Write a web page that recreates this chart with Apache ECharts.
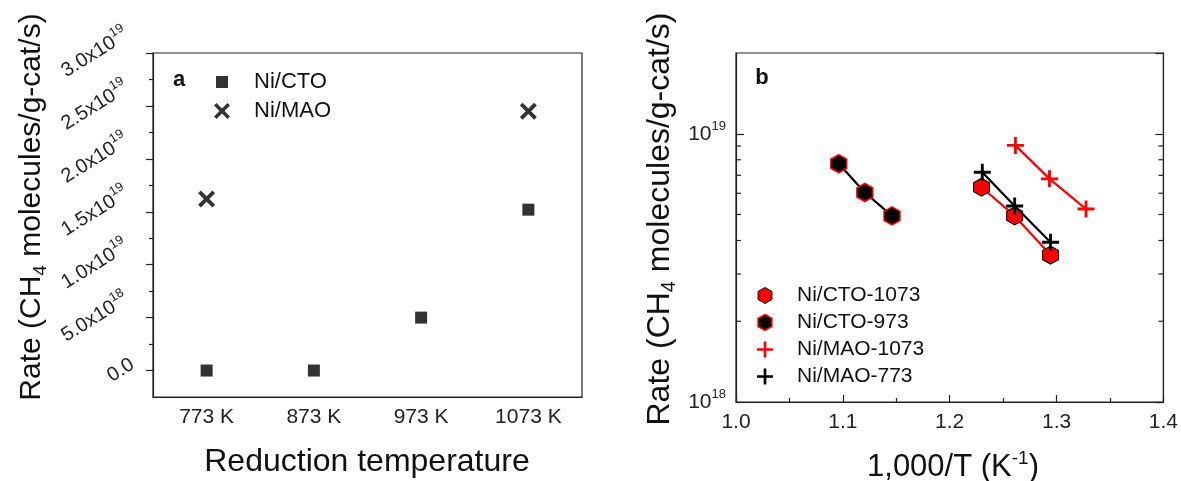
<!DOCTYPE html>
<html><head><meta charset="utf-8">
<script src="https://cdn.jsdelivr.net/npm/echarts@6/dist/echarts.min.js"></script>
<style>html,body{margin:0;padding:0;background:#fff}#c{width:1181px;height:481px}</style>
</head><body><div id="c"></div>
<script>
// ---- Panel a data ----
const categories = ['773 K', '873 K', '973 K', '1073 K'];
const ctoRate = [0, 0, 5.0e18, 1.52e19];
const maoRate = [1.62e19, null, null, 2.45e19];
const leftMajorTicks = [0, 5e18, 1e19, 1.5e19, 2e19, 2.5e19, 3e19];
const leftMinorTicks = [2.5e18, 7.5e18, 1.25e19, 1.75e19, 2.25e19, 2.75e19];
const leftYMin = -2.5e18, leftYMax = 3e19;

// ---- Panel b data ----
const cto1073 = [[1.2298, 6.32e18], [1.2608, 4.94e18], [1.2944, 3.53e18]];
const cto973  = [[1.0962, 7.73e18], [1.1206, 6.04e18], [1.1460, 4.94e18]];
const mao1073 = [[1.2615, 9.05e18], [1.2934, 6.79e18], [1.3276, 5.24e18]];
const mao773  = [[1.2305, 7.19e18], [1.2608, 5.38e18], [1.2944, 3.94e18]];
const logMinorTicks = [2e18, 3e18, 4e18, 5e18, 6e18, 7e18, 8e18, 9e18];
const rightXMin = 1.0, rightXMax = 1.4, rightXStep = 0.1;
const rightYMin = 1e18, rightYMax = 2e19;

const FF = '"Liberation Sans", Arial, Helvetica, sans-serif';
const AX = '#222';
const hexPath = 'path://M0,-1 L0.866,-0.5 L0.866,0.5 L0,1 L-0.866,0.5 L-0.866,-0.5 Z';
const plusPath = 'path://M-0.17,-1 H0.17 V-0.17 H1 V0.17 H0.17 V1 H-0.17 V0.17 H-1 V-0.17 H-0.17 Z';
const xPath = 'path://M-1,-0.68 L-0.68,-1 L0,-0.32 L0.68,-1 L1,-0.68 L0.32,0 L1,0.68 L0.68,1 L0,0.32 L-0.68,1 L-1,0.68 L-0.32,0 Z';
const sqPath = 'path://M0,0 H1 V1 H0 Z';

function sciLabel(v) {
  if (v === 0) return '{z|0.0}';
  const e = Math.floor(Math.log10(v) + 1e-9);
  const m = v / Math.pow(10, e);
  return '{m|' + m.toFixed(1) + 'x10}{s|' + e + '}';
}
function powLabel(v) {
  const l = Math.log10(v);
  const e = Math.round(l);
  if (Math.abs(l - e) > 1e-6) return '';
  return '{m|10}{s|' + e + '}';
}

const chart = echarts.init(document.getElementById('c'), null, {renderer: 'canvas'});
const option = {
  animation: false,
  backgroundColor: '#fff',
  grid: [
    {left: 153, right: 599, top: 53, bottom: 84, show: true, borderColor: AX, borderWidth: 1.2, backgroundColor: 'transparent'},
    {left: 736, right: 16, top: 53, bottom: 79, show: true, borderColor: AX, borderWidth: 1.2, backgroundColor: 'transparent'}
  ],
  xAxis: [
    {type: 'category', gridIndex: 0, data: categories, boundaryGap: true,
     axisLine: {onZero: false, lineStyle: {color: AX, width: 1.2}},
     axisTick: {alignWithLabel: true, length: 6, lineStyle: {color: AX, width: 1.2}},
     axisLabel: {fontSize: 21, color: '#222', fontFamily: FF, margin: 10},
     splitLine: {show: false}},
    {type: 'value', gridIndex: 1, min: rightXMin, max: rightXMax, interval: rightXStep,
     axisLine: {onZero: false, lineStyle: {color: AX, width: 1.2}},
     axisTick: {inside: true, length: 7, lineStyle: {color: AX, width: 1.2}},
     minorTick: {show: true, splitNumber: 2, length: 4, lineStyle: {color: AX, width: 1.2}},
     axisLabel: {fontSize: 21, color: '#222', fontFamily: FF, margin: 10, formatter: v => v.toFixed(1)},
     splitLine: {show: false}, minorSplitLine: {show: false}}
  ],
  yAxis: [
    {type: 'value', gridIndex: 0, min: leftYMin, max: leftYMax, position: 'left',
     axisLine: {show: true, onZero: false, lineStyle: {color: AX, width: 1.2}},
     axisTick: {show: true, length: 7, customValues: leftMajorTicks, lineStyle: {color: AX, width: 1.2}},
     axisLabel: {customValues: leftMajorTicks, rotate: 32, margin: 58, align: 'center', verticalAlign: 'middle',
       color: '#222', fontFamily: FF,
       formatter: sciLabel,
       rich: {m: {fontSize: 20, fontFamily: FF, color: '#222', lineHeight: 28, verticalAlign: 'middle'},
              s: {fontSize: 13, fontFamily: FF, color: '#222', lineHeight: 12, verticalAlign: 'top'},
              z: {fontSize: 20, fontFamily: FF, color: '#222', lineHeight: 28, verticalAlign: 'middle', padding: [27, 0, 0, 44]}}},
     splitLine: {show: false}},
    {type: 'value', gridIndex: 0, min: leftYMin, max: leftYMax, position: 'left', offset: 0,
     axisLine: {show: false, onZero: false},
     axisTick: {show: true, length: 4, customValues: leftMinorTicks, lineStyle: {color: AX, width: 1.2}},
     axisLabel: {show: false}, splitLine: {show: false}},
    {type: 'log', logBase: 10, gridIndex: 1, min: rightYMin, max: rightYMax, position: 'left',
     axisLine: {show: true, onZero: false, lineStyle: {color: AX, width: 1.2}},
     axisTick: {inside: true, length: 8, lineStyle: {color: AX, width: 1.2}},
     axisLabel: {margin: 10, formatter: powLabel, showMaxLabel: false,
       rich: {m: {fontSize: 21, fontFamily: FF, color: '#222', lineHeight: 28, verticalAlign: 'middle'},
              s: {fontSize: 13, fontFamily: FF, color: '#222', lineHeight: 12, verticalAlign: 'top'}}},
     splitLine: {show: false}, minorTick: {show: false}},
    {type: 'log', logBase: 10, gridIndex: 1, min: rightYMin, max: rightYMax, position: 'right',
     axisLine: {show: true, onZero: false, lineStyle: {color: AX, width: 1.2}},
     axisTick: {inside: true, length: 8, lineStyle: {color: AX, width: 1.2}},
     axisLabel: {show: false}, splitLine: {show: false}}
  ],
  legend: [
    {data: [{name: 'Ni/CTO', icon: sqPath}], left: 216, top: 71, padding: 0, selectedMode: false,
     itemWidth: 12, itemHeight: 12,
     textStyle: {fontSize: 22, color: '#111', fontFamily: FF, padding: [0, 0, 0, 21]}},
    {data: [{name: 'Ni/MAO', icon: xPath}], left: 214, top: 100, padding: 0, selectedMode: false,
     itemWidth: 16, itemHeight: 16,
     textStyle: {fontSize: 22, color: '#111', fontFamily: FF, padding: [0, 0, 0, 19]}},
    {data: [
       {name: 'Ni/CTO-1073', icon: hexPath, itemStyle: {borderWidth: 1}},
       {name: 'Ni/CTO-973', icon: hexPath, itemStyle: {borderWidth: 1.5}},
       {name: 'Ni/MAO-1073', icon: plusPath},
       {name: 'Ni/MAO-773', icon: plusPath}],
     orient: 'vertical', left: 757, top: 285, padding: 0, itemGap: 6, selectedMode: false,
     itemWidth: 16, itemHeight: 16,
     textStyle: {fontSize: 21, color: '#111', fontFamily: FF, padding: [0, 0, 0, 19]}}
  ],
  series: [
    {name: 'Ni/CTO', type: 'scatter', xAxisIndex: 0, yAxisIndex: 0, data: ctoRate,
     symbol: sqPath, symbolSize: 12, itemStyle: {color: '#000'}, z: 3},
    {name: 'Ni/MAO', type: 'scatter', xAxisIndex: 0, yAxisIndex: 0, data: maoRate,
     symbol: xPath, symbolSize: 17, itemStyle: {color: '#000'}, z: 3},
    {name: 'Ni/CTO-1073', type: 'line', xAxisIndex: 1, yAxisIndex: 2, data: cto1073,
     symbol: hexPath, symbolSize: [16, 18], color: '#ff0000',
     itemStyle: {color: '#ff0000', borderColor: '#000', borderWidth: 1},
     lineStyle: {color: '#ff0000', width: 2.2}, z: 3},
    {name: 'Ni/CTO-973', type: 'line', xAxisIndex: 1, yAxisIndex: 2, data: cto973,
     symbol: hexPath, symbolSize: [16, 18], color: '#000',
     itemStyle: {color: '#000', borderColor: '#ff0000', borderWidth: 1.5},
     lineStyle: {color: '#000', width: 2.2}, z: 3},
    {name: 'Ni/MAO-1073', type: 'line', xAxisIndex: 1, yAxisIndex: 2, data: mao1073,
     symbol: plusPath, symbolSize: 17, color: '#ff0000',
     itemStyle: {color: '#ff0000'}, lineStyle: {color: '#ff0000', width: 2.2}, z: 3},
    {name: 'Ni/MAO-773', type: 'line', xAxisIndex: 1, yAxisIndex: 2, data: mao773,
     symbol: plusPath, symbolSize: 17, color: '#000',
     itemStyle: {color: '#000'}, lineStyle: {color: '#000', width: 2.2}, z: 4},
    {type: 'custom', xAxisIndex: 1, yAxisIndex: 2, silent: true, clip: false, z: 5,
     data: logMinorTicks.map(v => [rightXMin, v]),
     renderItem: function (params, api) {
       const y = api.value(1);
       const a = api.coord([rightXMin, y]);
       const b = api.coord([rightXMax, y]);
       return {type: 'group', children: [
         {type: 'line', shape: {x1: a[0], y1: a[1], x2: a[0] + 5, y2: a[1]}, style: {stroke: AX, lineWidth: 1.2}},
         {type: 'line', shape: {x1: b[0] - 5, y1: b[1], x2: b[0], y2: b[1]}, style: {stroke: AX, lineWidth: 1.2}}
       ]};
     }}
  ],
  graphic: [
    {type: 'text', x: 32, y: 207, rotation: Math.PI / 2,
     style: {text: 'Rate (CH{sub|4} molecules/g-cat/s)', fontSize: 30, fontFamily: FF, fill: '#111',
       align: 'center', verticalAlign: 'middle', lineHeight: 36,
       rich: {sub: {fontSize: 19, fontFamily: FF, fill: '#111', lineHeight: 20, verticalAlign: 'bottom'}}}},
    {type: 'text', x: 367, y: 462,
     style: {text: 'Reduction temperature', fontSize: 32, fontFamily: FF, fill: '#111', align: 'center', verticalAlign: 'middle'}},
    {type: 'text', x: 660, y: 219, rotation: Math.PI / 2,
     style: {text: 'Rate (CH{sub|4} molecules/g-cat/s)', fontSize: 32, fontFamily: FF, fill: '#111',
       align: 'center', verticalAlign: 'middle', lineHeight: 38,
       rich: {sub: {fontSize: 20, fontFamily: FF, fill: '#111', lineHeight: 20, verticalAlign: 'bottom'}}}},
    {type: 'text', x: 953, y: 467,
     style: {text: '1,000/T (K{sup|-1})', fontSize: 31, fontFamily: FF, fill: '#111',
       align: 'center', verticalAlign: 'middle', lineHeight: 36,
       rich: {sup: {fontSize: 19, fontFamily: FF, fill: '#111', lineHeight: 18, verticalAlign: 'top'}}}},
    {type: 'text', x: 179, y: 80,
     style: {text: 'a', fontSize: 22, fontWeight: 'bold', fontFamily: FF, fill: '#111', align: 'center', verticalAlign: 'middle'}},
    {type: 'text', x: 762, y: 78,
     style: {text: 'b', fontSize: 22, fontWeight: 'bold', fontFamily: FF, fill: '#111', align: 'center', verticalAlign: 'middle'}}
  ]
};
chart.setOption(option);
</script>
</body></html>
